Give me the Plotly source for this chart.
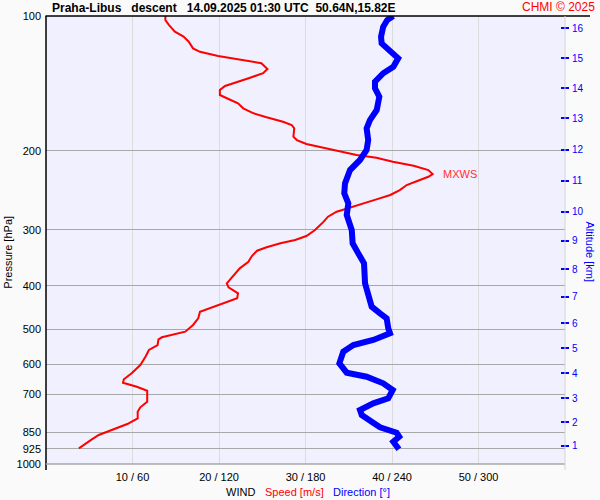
import math
import plotly.graph_objects as go

# ---- data ----
speed_hpa = [100, 102.1, 104.7, 108.4, 111.2, 114.1, 118.1, 120.2, 122.8, 124.9, 126.5, 127.5,
             131.3, 134.2, 137.3, 140.2, 143.3, 146.3, 150.1, 153.2, 156.6, 160.7, 164.9, 168.3,
             172.2, 175.1, 178.1, 186.0, 189.2, 193.1, 196.8, 200.9, 204.3, 207.2, 211.5, 215.9,
             220.7, 225.3, 228.5, 233.2, 238.4, 244.6, 250.9, 256.6, 261.9, 267.3, 273.4, 280.5,
             287.8, 300.4, 309.8, 316.2, 321.6, 328.3, 334.1, 343.4, 353.6, 365.8, 378.5, 395.1,
             403.3, 415.9, 426.7, 437.8, 446.9, 457.1, 472.9, 489.4, 506.6, 512.6, 521.4, 526.8,
             542.5, 556.6, 576.1, 601.2, 627.4, 647.1, 658.5, 672.2, 686.2, 726.1, 747.3, 764.5,
             790.7, 814.2, 836.7, 861.6, 880.9, 922.6]
speed_ms = [13.8, 13.8, 14.2, 14.9, 15.9, 16.5, 17.0, 17.8, 19.9, 22.1, 23.6, 24.9,
            25.6, 25.1, 23.6, 22.1, 20.7, 20.1, 20.1, 21.1, 22.2, 22.8, 24.0, 25.5,
            27.4, 28.4, 28.7, 28.6, 29.0, 30.1, 32.1, 34.0, 35.9, 38.2, 40.1, 42.5,
            44.2, 44.7, 44.2, 43.0, 41.7, 40.9, 39.8, 38.2, 36.7, 35.1, 33.6, 32.6,
            32.1, 31.1, 30.1, 28.8, 27.1, 25.5, 24.4, 23.8, 23.4, 22.4, 21.7, 20.9,
            21.1, 22.2, 22.1, 20.5, 19.0, 17.8, 17.6, 17.0, 16.1, 14.9, 13.4, 13.0,
            12.9, 11.9, 11.5, 10.9, 9.9, 9.0, 8.9, 10.5, 11.7, 11.7, 10.9, 10.6,
            10.6, 9.4, 7.8, 6.1, 5.3, 3.8]

dir_hpa = [100, 102.1, 105.7, 111.2, 115.1, 119.1, 124.3, 129.8, 134.2, 140.2, 145.0, 151.4,
           162.1, 170.7, 178.1, 189.2, 199.1, 209.6, 220.7, 236.3, 248.7, 261.9, 278.1, 300.4,
           321.6, 338.7, 356.5, 395.1, 415.9, 445.5, 460.9, 472.9, 497.8, 510.8, 528.6, 542.5,
           561.5, 596.0, 625.5, 638.5, 660.6, 683.7, 713.5, 732.2, 757.6, 777.2, 804.6, 828.2,
           851.4, 869.2, 891.8, 927.3]
dir_deg = [240.9, 236.7, 233.9, 232.4, 232.8, 238.6, 244.3, 240.9, 233.9, 228.2, 228.2, 231.2,
           229.4, 224.7, 222.4, 223.5, 222.4, 217.8, 210.9, 207.4, 206.9, 209.7, 208.6, 212.1,
           212.7, 216.6, 220.6, 221.3, 223.5, 225.9, 231.7, 236.3, 237.4, 238.6, 227.0, 213.2,
           206.2, 203.5, 208.6, 222.4, 233.9, 240.5, 237.4, 227.0, 217.8, 219.0, 225.9, 231.7,
           243.2, 245.0, 240.9, 244.8]

p_ticks = [100, 200, 300, 400, 500, 600, 700, 850, 925, 1000]
x_tick_speed = [10, 20, 30, 40, 50]
x_tick_text = ["10 / 60", "20 / 120", "30 / 180", "40 / 240", "50 / 300"]
alt_km = [1, 2, 3, 4, 5, 6, 7, 8, 9, 10, 11, 12, 13, 14, 15, 16]
alt_hpa = [911.6, 807.0, 713.5, 627.4, 551.7, 485.3, 423.3, 367.1, 317.4, 273.4,
           233.5, 199.1, 169.2, 145.0, 124.3, 106.5]
mxws_speed = 44.7
mxws_hpa = 225.3

FONT = "Liberation Sans, Arial, sans-serif"
RED = "#ff0000"
BLUE = "#0000ff"

fig = go.Figure()
fig.add_trace(go.Scatter(x=dir_deg, y=dir_hpa, xaxis="x2", yaxis="y2", mode="lines",
                         line=dict(color=BLUE, width=6), hoverinfo="skip", showlegend=False))
fig.add_trace(go.Scatter(x=speed_ms, y=speed_hpa, xaxis="x", yaxis="y", mode="lines",
                         line=dict(color=RED, width=2), hoverinfo="skip", showlegend=False))

L, R = 46, 565
T, B = 16, 464
W = R - L
H = B - T

def px(xp):
    return (xp - L) / W

def py(yp):
    return (B - yp) / H

shapes = []
# frame lines
shapes.append(dict(type="line", xref="paper", yref="paper", x0=px(45.5), x1=px(590), y0=1, y1=1,
                   line=dict(color="black", width=1.5)))
shapes.append(dict(type="line", xref="paper", yref="paper", x0=0, x1=0, y0=py(470), y1=1,
                   line=dict(color="black", width=1.5)))
shapes.append(dict(type="line", xref="paper", yref="paper", x0=0, x1=1, y0=0, y1=0,
                   line=dict(color="#a8a8a8", width=1.5)))
shapes.append(dict(type="line", xref="paper", yref="paper", x0=1, x1=1, y0=py(470), y1=1,
                   line=dict(color="#d4d4d4", width=1)))
# MXWS marks
lp = math.log10(mxws_hpa)
shapes.append(dict(type="line", xref="x", yref="y", x0=mxws_speed, x1=mxws_speed + 0.65, y0=lp, y1=lp,
                   line=dict(color=RED, width=1.5)))
shapes.append(dict(type="line", xref="paper", yref="y", x0=px(43), x1=px(56), y0=lp, y1=lp,
                   line=dict(color=RED, width=1.5)))
shapes.append(dict(type="line", xref="paper", yref="y", x0=px(555), x1=px(566), y0=lp, y1=lp,
                   line=dict(color=RED, width=1.5)))

annotations = [
    dict(text="<b>Praha-Libus\u00a0\u00a0\u00a0descent\u00a0\u00a0\u00a014.09.2025 01:30 UTC\u00a0\u00a050.64N,15.82E</b>",
         xref="paper", yref="paper", x=px(50), y=py(8), xanchor="left", yanchor="middle",
         showarrow=False, font=dict(family=FONT, size=12, color="black")),
    dict(text="CHMI © 2025", xref="paper", yref="paper", x=px(597), y=py(7.4), xanchor="right",
         yanchor="middle", showarrow=False, font=dict(family=FONT, size=12, color=RED)),
    dict(text="Pressure [hPa]", xref="paper", yref="paper", x=px(7.7), y=py(252), textangle=-90,
         xanchor="center", yanchor="middle", showarrow=False, font=dict(family=FONT, size=11, color="black")),
    dict(text="Altitude [km]", xref="paper", yref="paper", x=px(589.5), y=py(252), textangle=90,
         xanchor="center", yanchor="middle", showarrow=False, font=dict(family=FONT, size=11, color=BLUE)),
    dict(text="WIND", xref="paper", yref="paper", x=px(224), y=py(492), xanchor="left",
         yanchor="middle", showarrow=False, font=dict(family=FONT, size=11, color="black")),
    dict(text="Speed [m/s]", xref="paper", yref="paper", x=px(263), y=py(492), xanchor="left",
         yanchor="middle", showarrow=False, font=dict(family=FONT, size=11, color=RED)),
    dict(text="Direction [°]", xref="paper", yref="paper", x=px(331), y=py(492), xanchor="left",
         yanchor="middle", showarrow=False, font=dict(family=FONT, size=11, color=BLUE)),
    dict(text="MXWS", xref="x", yref="y", x=mxws_speed + 1.0, y=lp, xanchor="left", yanchor="middle",
         showarrow=False, font=dict(family=FONT, size=11, color="#ff3030")),
]

fig.update_layout(
    width=600, height=500, autosize=False,
    margin=dict(l=L, r=600 - R, t=T, b=500 - B, pad=0, autoexpand=False),
    paper_bgcolor="#fafafa",
    plot_bgcolor="#f0f0fe",
    font=dict(family=FONT, size=11, color="black"),
    showlegend=False,
    xaxis=dict(range=[0, 60], tickmode="array", tickvals=x_tick_speed, ticktext=x_tick_text,
               showgrid=True, gridcolor="#dcdcdc", gridwidth=1, zeroline=False, showline=False,
               ticks="", tickfont=dict(size=11, color="black"), ticklabelstandoff=5,
               automargin=False, fixedrange=True),
    xaxis2=dict(range=[0, 360], overlaying="x", anchor="y", visible=False, fixedrange=True),
    yaxis=dict(type="log", range=[3, 2], tickmode="array", tickvals=p_ticks,
               ticktext=[str(v) for v in p_ticks], showgrid=True, gridcolor="#a8a8a8", gridwidth=1,
               zeroline=False, showline=False, ticks="", tickfont=dict(size=11, color="black"),
               ticklabelstandoff=4, automargin=False, fixedrange=True),
    yaxis2=dict(type="log", range=[3, 2], overlaying="y", side="right", anchor="free",
                position=(560 - L) / W, tickmode="array", tickvals=alt_hpa,
                ticktext=[str(a) for a in alt_km], ticks="outside", ticklen=8, tickwidth=1.5,
                tickcolor=BLUE, showgrid=False, zeroline=False, showline=False,
                tickfont=dict(size=10, color=BLUE), ticklabelstandoff=1, automargin=False,
                fixedrange=True),
    shapes=shapes,
    annotations=annotations,
)

fig.write_html("out.html", config={"displayModeBar": False},
               post_script="document.body.style.margin='0';document.body.style.padding='0';")
